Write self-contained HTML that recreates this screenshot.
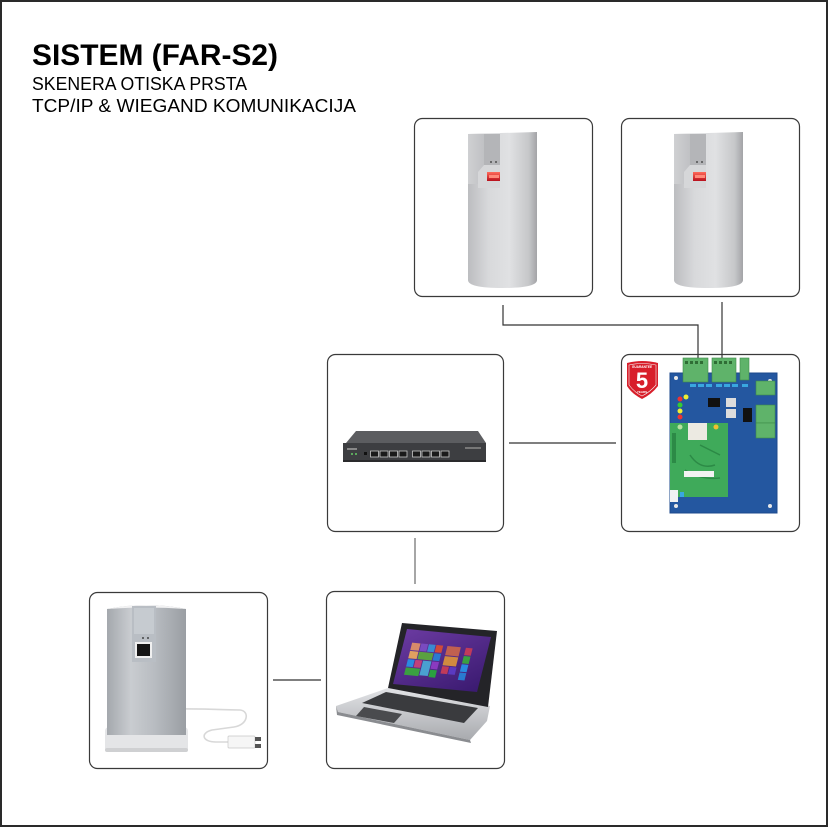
<!DOCTYPE html>
<html><head><meta charset="utf-8"><style>
html,body{margin:0;padding:0;background:#fff;}
svg{display:block;}
text{font-family:"Liberation Sans",sans-serif;}
</style></head><body>
<svg width="829" height="829" viewBox="0 0 829 829" xmlns="http://www.w3.org/2000/svg">
<defs>
<linearGradient id="silver" x1="0" y1="0" x2="1" y2="0">
<stop offset="0" stop-color="#bcbdc0"/><stop offset="0.3" stop-color="#d8d9db"/><stop offset="0.6" stop-color="#e0e1e3"/><stop offset="0.88" stop-color="#c6c7c9"/><stop offset="1" stop-color="#a3a4a7"/>
</linearGradient>
<linearGradient id="silver2" x1="0" y1="0" x2="1" y2="0">
<stop offset="0" stop-color="#a4a8ad"/><stop offset="0.3" stop-color="#c9ccd0"/><stop offset="0.6" stop-color="#b8bcc1"/><stop offset="1" stop-color="#9a9ea3"/>
</linearGradient>
<linearGradient id="notch" x1="0" y1="0" x2="1" y2="0">
<stop offset="0" stop-color="#cfd0d2"/><stop offset="0.5" stop-color="#c0c1c4"/><stop offset="1" stop-color="#a7a8ab"/>
</linearGradient>
<linearGradient id="red" x1="0" y1="0" x2="0" y2="1">
<stop offset="0" stop-color="#ff6a5a"/><stop offset="1" stop-color="#b8101c"/>
</linearGradient>
<linearGradient id="screen" x1="0" y1="0" x2="1" y2="1">
<stop offset="0" stop-color="#6a3aa0"/><stop offset="1" stop-color="#3a1a70"/>
</linearGradient>
<linearGradient id="lbase" x1="0" y1="0" x2="0" y2="1">
<stop offset="0" stop-color="#e2e3e6"/><stop offset="1" stop-color="#a8aaae"/>
</linearGradient>
<g id="reader">
<path d="M0,2 L69,0 L69,148 Q69,156 34.5,156 Q0,156 0,148 Z" fill="url(#silver)"/>
<rect x="0" y="2" width="32" height="50" fill="url(#notch)"/>
<rect x="16" y="2" width="16" height="50" fill="#b4b5b8"/>
<path d="M10,40 L16,33 L32,33 L32,56 L10,56 Z" fill="#d6d7d9"/>
<rect x="19" y="40" width="13" height="9" fill="url(#red)"/>
<rect x="21" y="43" width="10" height="3" fill="#ff8a7a"/>
<circle cx="23" cy="30" r="0.9" fill="#333"/><circle cx="28" cy="30" r="0.9" fill="#333"/>
</g>
</defs>

<rect x="1" y="1" width="826" height="825" fill="#fff" stroke="#2a2a2a" stroke-width="2"/>

<text x="32" y="65" font-size="30" font-weight="bold" fill="#000" textLength="246" lengthAdjust="spacingAndGlyphs">SISTEM (FAR-S2)</text>
<text x="32" y="90" font-size="18" fill="#000" textLength="215" lengthAdjust="spacingAndGlyphs">SKENERA OTISKA PRSTA</text>
<text x="32" y="112" font-size="18" fill="#000" textLength="324" lengthAdjust="spacingAndGlyphs">TCP/IP &amp; WIEGAND KOMUNIKACIJA</text>

<!-- boxes -->
<g fill="none" stroke="#3a3a3a" stroke-width="1.2">
<rect x="414.5" y="118.5" width="178" height="178" rx="8"/>
<rect x="621.5" y="118.5" width="178" height="178" rx="8"/>
<rect x="327.5" y="354.5" width="176" height="177" rx="8"/>
<rect x="621.5" y="354.5" width="178" height="177" rx="8"/>
<rect x="89.5" y="592.5" width="178" height="176" rx="8"/>
<rect x="326.5" y="591.5" width="178" height="177" rx="8"/>
</g>

<!-- connectors -->
<g fill="none" stroke="#333" stroke-width="1.2">
<polyline points="503,305 503,325 698,325 698,362"/>
<line x1="722" y1="302" x2="722" y2="362"/>
<line x1="509" y1="443" x2="616" y2="443"/>
<line x1="273" y1="680" x2="321" y2="680"/>
</g>
<line x1="415" y1="538" x2="415" y2="584" stroke="#888" stroke-width="1.5"/>

<!-- top readers -->
<use href="#reader" x="468" y="132"/>
<use href="#reader" x="674" y="132"/>

<!-- switch -->
<polygon points="346,443 356,431 478,431 486,443" fill="#5c5d60"/>
<rect x="343" y="443" width="143" height="19" fill="#3d3e41"/>
<rect x="343" y="460" width="143" height="2" fill="#2a2a2c"/>
<g fill="#1a1a1a" stroke="#c8c8c8" stroke-width="0.8">
<rect x="370.5" y="451" width="8" height="6"/><rect x="380" y="451" width="8" height="6"/><rect x="389.5" y="451" width="8" height="6"/><rect x="399" y="451" width="8" height="6"/>
<rect x="412.5" y="451" width="8" height="6"/><rect x="422" y="451" width="8" height="6"/><rect x="431.5" y="451" width="8" height="6"/><rect x="441" y="451" width="8" height="6"/>
</g>
<rect x="347" y="448" width="10" height="2" fill="#888"/>
<circle cx="352" cy="454" r="1" fill="#6c6"/><circle cx="356" cy="454" r="1" fill="#6c6"/>
<rect x="364" y="452" width="3" height="3" fill="#111"/>
<rect x="465" y="447" width="16" height="2" fill="#777"/>

<!-- controller board -->
<rect x="670" y="373" width="107" height="140" fill="#2457a0"/>
<rect x="670" y="373" width="107" height="140" fill="none" stroke="#1c4a8c" stroke-width="1"/>
<circle cx="676" cy="378" r="2" fill="#e8e8e8"/><circle cx="770" cy="381" r="2" fill="#e8e8e8"/>
<circle cx="770" cy="506" r="2" fill="#e8e8e8"/><circle cx="676" cy="506" r="2" fill="#e8e8e8"/>
<g fill="#5fb36a" stroke="#3e8a48" stroke-width="0.6">
<rect x="683" y="358" width="25" height="24"/>
<rect x="712" y="358" width="24" height="24"/>
<rect x="740" y="358" width="9" height="22"/>
<rect x="756" y="381" width="19" height="14"/>
<rect x="756" y="405" width="19" height="18"/>
<rect x="756" y="423" width="19" height="15"/>
</g>
<g fill="#2f6d35">
<rect x="685" y="361" width="3" height="3"/><rect x="690" y="361" width="3" height="3"/><rect x="695" y="361" width="3" height="3"/><rect x="700" y="361" width="3" height="3"/>
<rect x="714" y="361" width="3" height="3"/><rect x="719" y="361" width="3" height="3"/><rect x="724" y="361" width="3" height="3"/><rect x="729" y="361" width="3" height="3"/>
</g>
<g fill="#39a7e0">
<rect x="690" y="384" width="6" height="3"/><rect x="698" y="384" width="6" height="3"/><rect x="706" y="384" width="6" height="3"/><rect x="716" y="384" width="6" height="3"/><rect x="724" y="384" width="6" height="3"/><rect x="732" y="384" width="6" height="3"/><rect x="742" y="384" width="6" height="3"/>
</g>
<g fill="#111">
<rect x="708" y="398" width="12" height="9"/>
<rect x="743" y="408" width="9" height="14"/>
</g>
<rect x="726" y="398" width="10" height="9" fill="#ddd"/><rect x="726" y="409" width="10" height="9" fill="#ddd"/>
<circle cx="680" cy="399" r="2.5" fill="#e33"/><circle cx="686" cy="397" r="2.5" fill="#ee3"/>
<circle cx="680" cy="405" r="2.5" fill="#3c3"/><circle cx="680" cy="411" r="2.5" fill="#ee3"/><circle cx="680" cy="417" r="2.5" fill="#e33"/>
<rect x="670" y="423" width="58" height="74" fill="#3faa5a"/>
<path d="M690,455 Q700,470 715,465 M685,470 Q700,480 720,478 M700,445 L720,455" stroke="#2c8a46" stroke-width="1.5" fill="none"/>
<rect x="688" y="423" width="19" height="17" fill="#eceae2"/>
<rect x="672" y="433" width="4" height="30" fill="#2c8a46"/>
<rect x="684" y="471" width="30" height="6" fill="#f2f2f2"/>
<circle cx="680" cy="427" r="2.5" fill="#b8e0a0"/><circle cx="716" cy="427" r="2.5" fill="#f0c030"/>
<rect x="670" y="490" width="8" height="12" fill="#f2f2f2"/>
<rect x="680" y="492" width="4" height="5" fill="#39a7e0"/>
<path d="M627,363 Q642,359 658,363 L658,386 Q652,394 642,399 Q632,394 627,386 Z" fill="#d81e2a"/>
<path d="M629,365 Q642,362 656,365 L656,385 Q650,392 642,396 Q634,392 629,385 Z" fill="none" stroke="#f4f4f4" stroke-width="0.6"/>
<text x="642" y="368" font-size="3.2" font-weight="bold" fill="#fff" text-anchor="middle">GUARANTEE</text>
<text x="642" y="388" font-size="22" font-weight="bold" fill="#fff" text-anchor="middle">5</text>
<text x="642" y="393" font-size="3" font-weight="bold" fill="#fff" text-anchor="middle">YEARS</text>

<!-- bottom-left desktop reader -->
<path d="M136,713 C150,708 175,708 240,710 C250,711 248,725 234,727 L212,730 C200,733 202,742 216,742 L230,742" fill="none" stroke="#d8d8d8" stroke-width="1.6"/>
<rect x="105" y="727" width="83" height="25" rx="4" fill="#e4e5e7"/>
<rect x="105" y="748" width="83" height="4" rx="2" fill="#cfd0d2"/>
<path d="M107,609 Q146,601 186,609 L186,735 L107,735 Z" fill="url(#silver2)"/>
<path d="M107,609 Q146,601 186,609 Q146,606 107,609 Z" fill="#f2f2f3"/>
<path d="M132,606 L156,606 L156,662 L132,662 Z" fill="#b9bec4"/>
<rect x="134" y="608" width="20" height="26" fill="#c6cbd0"/>
<rect x="135" y="642" width="17" height="16" fill="#f0f0f0"/>
<rect x="137" y="644" width="13" height="12" fill="#151515"/>
<circle cx="143" cy="638" r="0.9" fill="#222"/><circle cx="148" cy="638" r="0.9" fill="#222"/>
<rect x="228" y="736" width="27" height="12" rx="1" fill="#f6f6f6" stroke="#c8c8c8" stroke-width="0.7"/>
<rect x="255" y="737" width="6" height="4" fill="#555"/><rect x="255" y="744" width="6" height="4" fill="#555"/>

<!-- laptop -->
<polygon points="388,688 490,706 487,721 470,740 338,712 336,706" fill="url(#lbase)"/>
<polygon points="336,706 338,712 470,740 471,743 337,715" fill="#8a8c90"/>
<polygon points="386,692 478,708 464,723 362,703" fill="#3a3b3e"/>
<polygon points="364,707 402,714 394,723 356,716" fill="#4a4b4e"/>
<polygon points="402,623 497,631 488,707 388,688" fill="#242428"/>
<g transform="matrix(0.84,0.08,-0.233,0.917,407,629)">
<rect x="0" y="0" width="100" height="60" fill="url(#screen)"/>
<rect x="10" y="14" width="10" height="8" fill="#d88a6a"/><rect x="21" y="14" width="8" height="8" fill="#7a4ac0"/><rect x="30" y="14" width="8" height="8" fill="#3a8ad0"/><rect x="39" y="14" width="8" height="8" fill="#d04a3a"/>
<rect x="10" y="23" width="10" height="8" fill="#e0a060"/><rect x="21" y="23" width="17" height="8" fill="#5aa040"/><rect x="39" y="23" width="8" height="8" fill="#2a7ad0"/>
<rect x="10" y="32" width="8" height="8" fill="#2a8ae0"/><rect x="19" y="32" width="8" height="8" fill="#c0407a"/><rect x="28" y="32" width="10" height="16" fill="#4aa0d0"/><rect x="39" y="32" width="8" height="8" fill="#8a3ac0"/>
<rect x="10" y="41" width="17" height="8" fill="#3aa040"/><rect x="39" y="41" width="8" height="8" fill="#2aa040"/>
<rect x="52" y="14" width="16" height="10" fill="#c06050"/><rect x="52" y="25" width="16" height="10" fill="#d08a40"/><rect x="52" y="36" width="8" height="8" fill="#c03a5a"/><rect x="61" y="36" width="8" height="8" fill="#5a3ac0"/>
<rect x="74" y="14" width="8" height="8" fill="#c03a5a"/><rect x="74" y="23" width="8" height="8" fill="#3aa040"/><rect x="74" y="32" width="8" height="8" fill="#2a8ae0"/><rect x="74" y="41" width="8" height="8" fill="#2a7ad0"/>
</g>
</svg>
</body></html>
